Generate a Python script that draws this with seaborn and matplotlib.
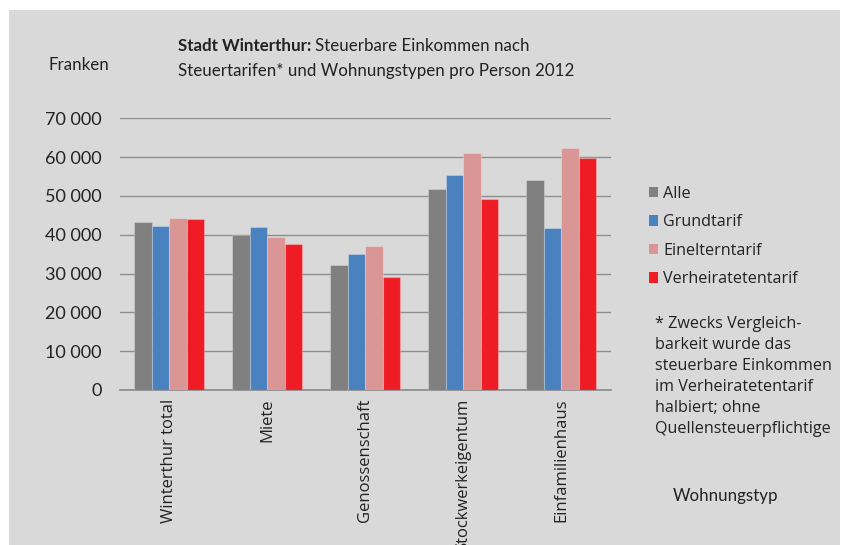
import pandas as pd
import seaborn as sns
import matplotlib.pyplot as plt
from matplotlib.patches import Rectangle, Patch

# Daten
wohnungstypen = ["Winterthur total", "Miete", "Genossenschaft", "Stockwerkeigentum", "Einfamilienhaus"]
tarife = ["Alle", "Grundtarif", "Einelterntarif", "Verheiratetentarif"]
alle = [43200, 40000, 32200, 51800, 54000]
grundtarif = [42300, 41900, 35000, 55300, 41700]
einelterntarif = [44400, 39300, 37100, 61000, 62300]
verheiratetentarif = [44100, 37500, 29000, 49300, 59900]
farben = ["#808080", "#4a81bf", "#d99694", "#ee1c24"]

rows = []
for tarif, werte in zip(tarife, [alle, grundtarif, einelterntarif, verheiratetentarif]):
    for typ, w in zip(wohnungstypen, werte):
        rows.append({"Wohnungstyp": typ, "Tarif": tarif, "Franken": w})
df = pd.DataFrame(rows)

W, H = 842, 545
fig = plt.figure(figsize=(W / 100, H / 100), dpi=100, facecolor="white")
bg = "#d9d9d9"
fig.patches.append(Rectangle((9 / W, 0), (840 - 9) / W, (H - 10) / H,
                             transform=fig.transFigure, facecolor=bg, edgecolor="none", zorder=-5))

calibri = ["Lato", "DejaVu Sans"]
segoe = ["Open Sans", "DejaVu Sans"]

ax = fig.add_axes([120 / W, (H - 390) / H, 490.5 / W, (390 - 118.3) / H])
ax.set_zorder(1)
ax.set_facecolor(bg)
sns.barplot(data=df, x="Wohnungstyp", y="Franken", hue="Tarif", order=wohnungstypen,
            hue_order=tarife, palette=farben, width=0.714, gap=0, saturation=1,
            edgecolor=(1, 1, 1, 0.25), linewidth=0.8, legend=False, ax=ax, zorder=3)

ax.set_ylim(0, 70000)
ax.set_xlim(-0.5, len(wohnungstypen) - 0.5)
ax.set_yticks(range(0, 70001, 10000))
ax.set_yticklabels([f"{v:,}".replace(",", " ") for v in range(0, 70001, 10000)],
                   fontfamily=calibri, fontsize=13, color="#222222")
ax.grid(axis="y", color="#8e8e8e", linewidth=1, zorder=0)
ax.set_axisbelow(True)
for s in ["top", "right", "left"]:
    ax.spines[s].set_visible(False)
ax.spines["bottom"].set_color("#8a8a8a")
ax.spines["bottom"].set_linewidth(1.2)
ax.tick_params(axis="y", length=0, pad=13)
ax.tick_params(axis="x", length=0, pad=6)
ax.set_xticks(range(len(wohnungstypen)))
ax.set_xticklabels(wohnungstypen, rotation=90, va="top", ha="center",
                   fontfamily=segoe, fontsize=12, color="#222222")
ax.set_xlabel("")
ax.set_ylabel("")

# Texte
fig.text(48 / W, 1 - 65 / H, "Franken", fontfamily=calibri, fontsize=12.2,
         va="center", ha="left", color="#222222")
t1 = fig.text(178 / W, 1 - 46 / H, "Stadt Winterthur:", fontfamily=calibri, fontsize=12.2,
              fontweight="bold", va="center", ha="left", color="#222222")
fig.canvas.draw()
bb = t1.get_window_extent(fig.canvas.get_renderer())
fig.text(bb.x1 / W + 4 / W, 1 - 46 / H, "Steuerbare Einkommen nach", fontfamily=calibri,
         fontsize=12.2, va="center", ha="left", color="#222222")
fig.text(178 / W, 1 - 71 / H, "Steuertarifen* und Wohnungstypen pro Person 2012",
         fontfamily=calibri, fontsize=12.2, va="center", ha="left", color="#222222")
fig.text(673 / W, 1 - 496 / H, "Wohnungstyp", fontfamily=calibri, fontsize=12.2,
         va="center", ha="left", color="#222222")

handles = [Patch(facecolor=c, edgecolor="none", label=t) for c, t in zip(farben, tarife)]
leg = fig.legend(handles=handles, loc="upper left", bbox_to_anchor=(634 / W, 1 - 171 / H),
                 frameon=False, handlelength=0.6, handleheight=0.6, handletextpad=0.3,
                 labelspacing=0.78, prop={"family": segoe, "size": 11.6})
for t in leg.get_texts():
    t.set_color("#222222")

fig.text(655 / W, 1 - 316 / H,
         "* Zwecks Vergleich-\nbarkeit wurde das\nsteuerbare Einkommen\nim Verheiratetentarif\nhalbiert; ohne\nQuellensteuerpflichtige",
         fontfamily=segoe, fontsize=11.6, va="top", ha="left", linespacing=1.42, color="#222222")

fig.savefig("out.png", dpi=100, facecolor="white")
